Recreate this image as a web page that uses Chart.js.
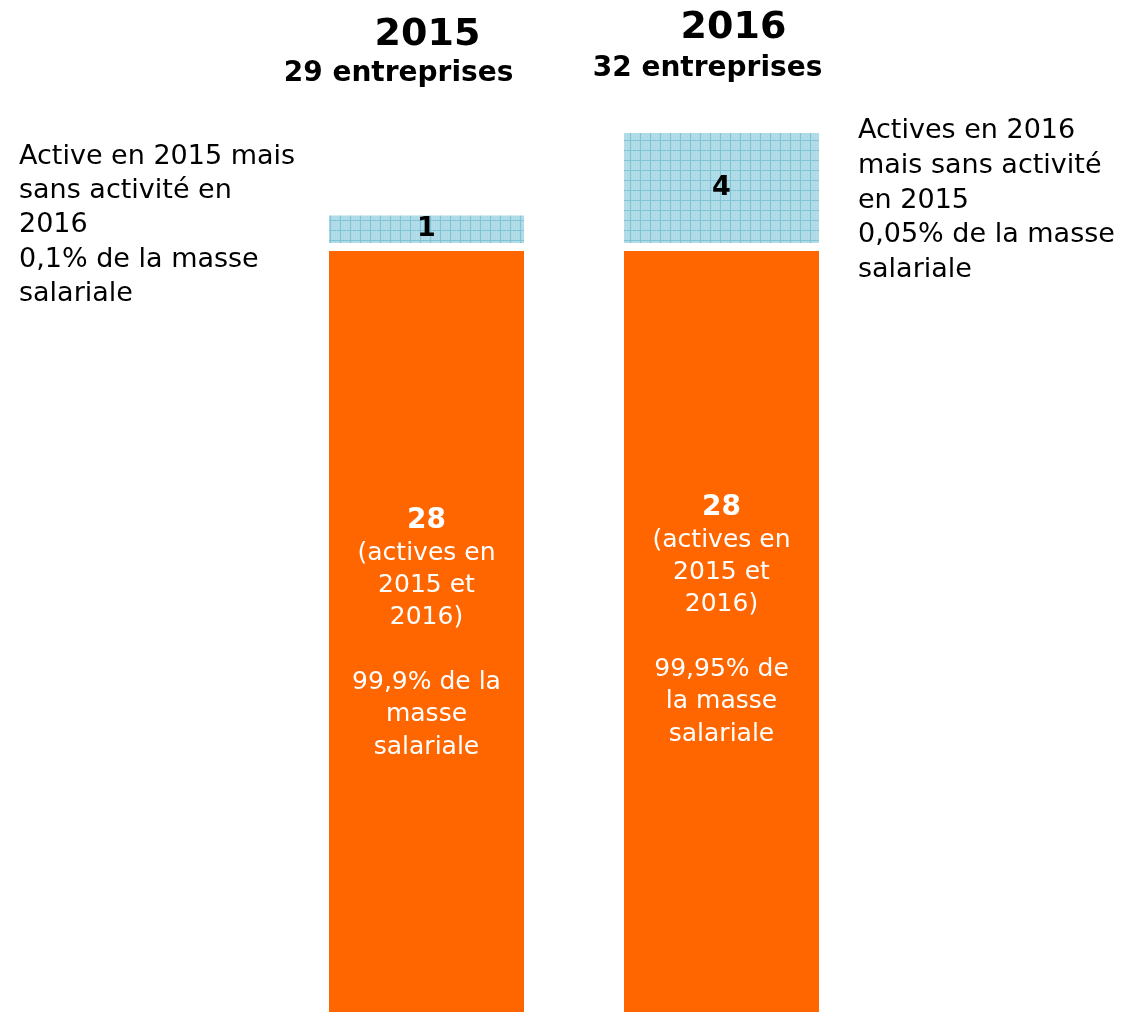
<!DOCTYPE html>
<html>
<head>
<meta charset="utf-8">
<script src="https://cdn.jsdelivr.net/npm/chart.js@4"></script>
<style>
  html, body { margin: 0; padding: 0; background: #fff; }
  #wrap { width: 1129px; height: 1012px; }
</style>
</head>
<body>
<div id="wrap"><canvas id="chart" width="1129" height="1012"></canvas></div>
<script>
// données
const years = ['2015', '2016'];
const totals = ['29 entreprises', '32 entreprises'];
const communes = [28, 28];          // actives en 2015 et 2016
const autres = [1, 4];              // actives une seule année
const labelsCommunes = [
    ['(actives en', '2015 et', '2016)', '', '99,9% de la', 'masse', 'salariale'],
    ['(actives en', '2015 et', '2016)', '', '99,95% de', 'la masse', 'salariale']
];
const notes = [
    ['Active en 2015 mais', 'sans activité en', '2016', '0,1% de la masse', 'salariale'],
    ['Actives en 2016', 'mais sans activité', 'en 2015', '0,05% de la masse', 'salariale']
];

const FONT = '"DejaVu Sans", Verdana, sans-serif';

// motif quadrillé bleu
function makePattern() {
    const c = document.createElement('canvas');
    c.width = 10; c.height = 10;
    const g = c.getContext('2d');
    g.fillStyle = '#acd9e6';
    g.fillRect(0, 0, 10, 10);
    g.fillStyle = '#bde2ec';
    for (let i = 0; i < 10; i += 2) for (let j = (i / 2) % 2; j < 10; j += 2) g.fillRect(i, j, 1, 1);
    g.fillStyle = '#80c4d6';
    g.fillRect(0, 0, 10, 1);
    g.fillRect(0, 0, 1, 10);
    return g.createPattern(c, 'repeat');
}

const textPlugin = {
    id: 'textes',
    afterDatasetsDraw(chart) {
        const ctx = chart.ctx;
        const xs = chart.scales.x;
        ctx.save();
        ctx.textBaseline = 'middle';

        // titres
        years.forEach((y, i) => {
            const cx = xs.getPixelForValue(i);
            ctx.fillStyle = '#000';
            ctx.textAlign = 'center';
            ctx.font = 'bold 38px ' + FONT;
            ctx.fillText(y, cx + (i === 0 ? 1 : 12), i === 0 ? 35 : 28);
            ctx.font = 'bold 28px ' + FONT;
            ctx.fillText(totals[i], cx - (i === 0 ? 28 : 14), i === 0 ? 74 : 69);
        });

        // valeurs dans les barres
        const m0 = chart.getDatasetMeta(0);
        const m1 = chart.getDatasetMeta(1);
        m0.data.forEach((bar, i) => {
            const startY = i === 0 ? 521 : 508;
            ctx.fillStyle = '#fff';
            ctx.textAlign = 'center';
            ctx.font = 'bold 28px ' + FONT;
            ctx.fillText(String(communes[i]), bar.x, startY);
            ctx.font = '25px ' + FONT;
            labelsCommunes[i].forEach((l, k) => {
                if (l) ctx.fillText(l, bar.x, startY + 32.3 * (k + 1));
            });
        });
        m1.data.forEach((bar, i) => {
            ctx.fillStyle = '#000';
            ctx.textAlign = 'center';
            ctx.font = 'bold 27px ' + FONT;
            ctx.fillText(String(autres[i]), bar.x, (bar.y + bar.base) / 2);
        });

        // annotations
        ctx.fillStyle = '#000';
        ctx.textAlign = 'left';
        ctx.font = '27px ' + FONT;
        notes[0].forEach((l, k) => ctx.fillText(l, 19, 157 + 34.2 * k));
        notes[1].forEach((l, k) => ctx.fillText(l, 858, 131 + 34.8 * k));
        ctx.restore();
    }
};

new Chart(document.getElementById('chart').getContext('2d'), {
    type: 'bar',
    data: {
        labels: years,
        datasets: [{
            label: 'Actives en 2015 et 2016',
            data: communes,
            backgroundColor: '#ff6600',
            borderColor: '#ffffff',
            borderWidth: { top: 8, left: 0, right: 0, bottom: 0 },
            borderSkipped: false,
            barPercentage: 0.661,
            categoryPercentage: 1
        }, {
            label: 'Actives une seule année',
            data: autres,
            backgroundColor: makePattern(),
            borderWidth: 0,
            barPercentage: 0.661,
            categoryPercentage: 1
        }]
    },
    options: {
        responsive: false,
        animation: false,
        layout: { padding: { left: 279, right: 260, top: 133, bottom: 0 } },
        plugins: {
            legend: { display: false },
            tooltip: { enabled: false }
        },
        scales: {
            x: { stacked: true, display: false },
            y: { stacked: true, display: false, min: 0, max: 32 }
        }
    },
    plugins: [textPlugin]
});
</script>
</body>
</html>
